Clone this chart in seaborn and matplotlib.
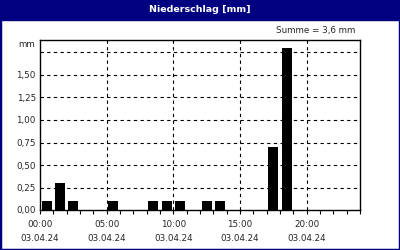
import matplotlib
matplotlib.use("Agg")
import matplotlib.pyplot as plt
import seaborn as sns
import numpy as np
import pandas as pd
from matplotlib.patches import Rectangle
from matplotlib.ticker import MultipleLocator, FixedLocator

hours = [0, 1, 2, 5, 8, 9, 10, 12, 13, 17, 18]
values = [0.1, 0.3, 0.1, 0.1, 0.1, 0.1, 0.1, 0.1, 0.1, 0.7, 1.8]
xtick_hours = [0, 5, 10, 15, 20]
xtick_labels = ["00:00\n03.04.24", "05:00\n03.04.24", "10:00\n03.04.24",
                "15:00\n03.04.24", "20:00\n03.04.24"]
ytick_vals = [0, 0.25, 0.5, 0.75, 1.0, 1.25, 1.5]
ytick_labels = ["0,00", "0,25", "0,50", "0,75", "1,00", "1,25", "1,50"]
title = "Niederschlag [mm]"
summe = "Summe = 3,6 mm"

sns.set_style("white")
plt.rcParams['font.family'] = ['DejaVu Sans']

df = pd.DataFrame({"hour": hours, "value": values})

navy = "#000080"
fig = plt.figure(figsize=(4, 2.5), dpi=100)
fig.patch.set_facecolor("white")

# frame border and title bar
fig.patches.append(Rectangle((0, 0), 1, 1, transform=fig.transFigure,
                             fill=False, edgecolor=navy, linewidth=2.5, zorder=0))
fig.patches.append(Rectangle((0, 1 - 20/250), 1, 20/250, transform=fig.transFigure,
                             facecolor=navy, edgecolor=navy, zorder=0))
fig.text(0.5, 1 - 10/250, title, color="white", fontsize=6.8, fontweight="bold",
         ha="center", va="center")

ax = fig.add_axes([40/400, 1 - 210/250, 320/400, 170/250])
sns.histplot(data=df, x="hour", weights="value", bins=24, binrange=(0, 24),
             shrink=0.75, color="black", edgecolor="none", alpha=1, ax=ax, zorder=3)

ax.set_xlim(0, 24)
ax.set_ylim(0, 170/90)
ax.set_xlabel("")
ax.set_ylabel("")

ax.xaxis.set_major_locator(FixedLocator(xtick_hours))
ax.set_xticklabels(xtick_labels, fontsize=6.3, linespacing=1.75)
ax.xaxis.set_minor_locator(MultipleLocator(1))
ax.tick_params(axis="x", which="both", direction="out", length=3, width=0.8,
               color="black", bottom=True, pad=4)
ax.set_yticks(ytick_vals)
ax.set_yticklabels(ytick_labels, fontsize=6.3)
ax.tick_params(axis="y", length=0, pad=3)

for h in xtick_hours[1:]:
    ax.axvline(h, color="black", linestyle=(0, (3, 3)), linewidth=0.8, zorder=1)
for v in [0.25, 0.5, 0.75, 1.0, 1.25, 1.5, 1.75]:
    ax.axhline(v, color="black", linestyle=(0, (3, 3)), linewidth=0.8, zorder=1)

for s in ax.spines.values():
    s.set_visible(True)
    s.set_color("black")
    s.set_linewidth(1)

fig.text(27/400, 1 - 45/250, "mm", fontsize=6.3, ha="center", va="center")
fig.text(355/400, 1 - 31/250, summe, fontsize=6.3, ha="right", va="center")

fig.savefig("out.png", dpi=100)
